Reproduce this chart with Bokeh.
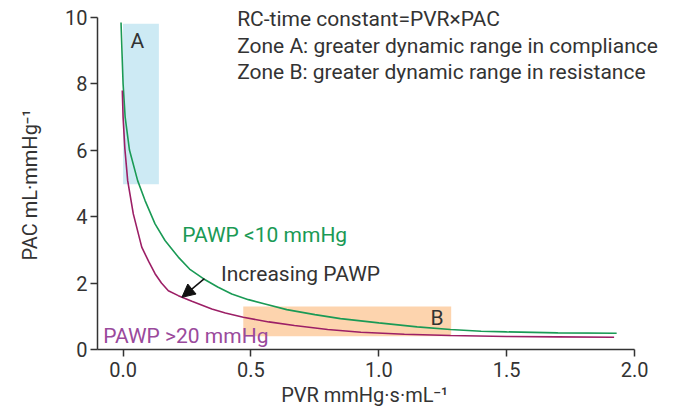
from bokeh.plotting import figure
from bokeh.models import Range1d, Label, Arrow, NormalHead, BoxAnnotation
from bokeh.embed import file_html
from bokeh.resources import INLINE

# Data
green_x = [-0.008, -0.004, 0.0, 0.008, 0.025, 0.057, 0.086, 0.125, 0.164, 0.216, 0.26,
           0.314, 0.37, 0.425, 0.49, 0.555, 0.64, 0.75, 0.85, 1.0, 1.15, 1.28, 1.4, 1.5, 1.7, 1.93]
green_y = [9.84, 8.9, 8.0, 7.0, 6.0, 5.08, 4.48, 3.78, 3.28, 2.78, 2.42,
           2.13, 1.88, 1.67, 1.5, 1.37, 1.2, 1.05, 0.93, 0.8, 0.68, 0.6, 0.55, 0.53, 0.5, 0.49]
purple_x = [-0.003, 0.0, 0.007, 0.018, 0.04, 0.073, 0.1, 0.125, 0.15, 0.177, 0.216,
            0.269, 0.347, 0.4, 0.47, 0.57, 0.67, 0.8, 0.93, 1.1, 1.28, 1.5, 1.7, 1.92]
purple_y = [7.79, 7.0, 6.04, 5.08, 4.08, 3.08, 2.65, 2.28, 2.0, 1.77, 1.62,
            1.45, 1.22, 1.1, 0.97, 0.83, 0.72, 0.6, 0.52, 0.46, 0.42, 0.39, 0.38, 0.37]

zone_a = dict(left=0.0, right=0.14, bottom=4.97, top=9.8)
zone_b = dict(left=0.47, right=1.283, bottom=0.4, top=1.29)

x_ticks = [0.0, 0.5, 1.0, 1.5, 2.0]
y_ticks = [0, 2, 4, 6, 8, 10]
x_bounds = (-0.1, 2.0)
y_bounds = (0, 10)

notes = ["RC-time constant=PVR×PAC",
         "Zone A: greater dynamic range in compliance",
         "Zone B: greater dynamic range in resistance"]

FONT = "Roboto"
TXT = "#333333"
GREEN = "#1a9a55"
PURPLE_LINE = "#9c1f66"
PURPLE_TXT = "#9a4a9c"
NBSP = "\u00a0"

# frame extends beyond the axes so that the note texts are not clipped
p = figure(width=680, height=409, x_range=Range1d(-0.1, 2.164), y_range=Range1d(0, 10.5),
           output_backend="svg", toolbar_location=None,
           min_border_left=97, min_border_right=4, min_border_top=0, min_border_bottom=60)
p.outline_line_color = None
p.grid.visible = False
p.background_fill_color = "white"

p.add_layout(BoxAnnotation(fill_color="#cdeaf4", fill_alpha=1, line_color=None, level="underlay", **zone_a))
p.add_layout(BoxAnnotation(fill_color="#fdd4ae", fill_alpha=1, line_color=None, level="underlay", **zone_b))

p.line(green_x, green_y, line_color=GREEN, line_width=1.6)
p.line(purple_x, purple_y, line_color=PURPLE_LINE, line_width=1.6)

for ax in (p.xaxis[0], p.yaxis[0]):
    ax.axis_line_color = TXT
    ax.axis_line_width = 1.5
    ax.major_tick_line_color = TXT
    ax.major_tick_line_width = 1.5
    ax.major_tick_out = 7
    ax.major_tick_in = 0
    ax.minor_tick_line_color = None
    ax.major_label_text_font = FONT
    ax.major_label_text_font_size = "20px"
    ax.major_label_text_color = TXT
    ax.axis_label_text_font = FONT
    ax.axis_label_text_font_size = "20px"
    ax.axis_label_text_font_style = "normal"
    ax.axis_label_text_color = TXT

p.xaxis.bounds = x_bounds
p.yaxis.bounds = y_bounds
p.xaxis.ticker = x_ticks
p.yaxis.ticker = y_ticks
p.xaxis.major_label_overrides = {v: f"{v:.1f}" for v in x_ticks}
# trailing no-break spaces re-centre the labels on the axis lines (frame is wider than the axes)
p.xaxis.axis_label = "PVR mmHg·s·mL⁻¹" + NBSP * 9
p.yaxis.axis_label = "PAC mL·mmHg⁻¹" + NBSP * 4
p.xaxis.major_label_standoff = 5
p.yaxis.major_label_standoff = 3
p.xaxis.axis_label_standoff = 3
p.yaxis.axis_label_standoff = 20

def lab(x, y, text, color=TXT, size="21px", align="left"):
    p.add_layout(Label(x=x, y=y, text=text, text_font=FONT, text_font_size=size,
                       text_color=color, text_align=align, text_baseline="alphabetic"))

for i, t in enumerate(notes):
    lab(0.446, 9.94 - i * 0.8, t)

lab(0.056, 9.28, "A", align="center")
lab(1.228, 0.95, "B", align="center")
lab(0.231, 3.43, "PAWP <10 mmHg", color=GREEN)
lab(0.383, 2.28, "Increasing PAWP")
lab(-0.078, 0.42, "PAWP >20 mmHg", color=PURPLE_TXT)

p.add_layout(Arrow(x_start=0.318, y_start=2.13, x_end=0.23, y_end=1.57,
                   line_color="#111111", line_width=1.5,
                   end=NormalHead(size=13, fill_color="#111111", line_color="#111111")))

open("out.html", "w").write(file_html(p, INLINE))
